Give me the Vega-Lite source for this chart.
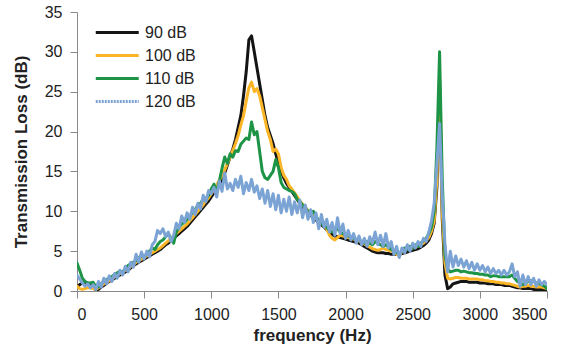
{
  "$schema": "https://vega.github.io/schema/vega-lite/v6.json",
  "width": 470,
  "height": 279,
  "autosize": {"type": "none"},
  "padding": {"left": 77, "top": 12, "right": 23, "bottom": 59},
  "background": "white",
  "config": {
    "view": {"stroke": null},
    "font": "Liberation Sans",
    "axis": {
      "grid": false,
      "domainColor": "#8a8a8a",
      "tickColor": "#8a8a8a",
      "tickSize": 7,
      "labelFontSize": 16,
      "labelColor": "#222222",
      "titleFontSize": 17,
      "titleFontWeight": "bold",
      "titleColor": "#222222",
      "labelPadding": 8
    }
  },
  "data": {
    "values": [
      {"f":0,"90 dB":0.5,"100 dB":0.6,"110 dB":3.5,"120 dB":2.0},
      {"f":20,"90 dB":0.8,"100 dB":0.3,"110 dB":2.6,"120 dB":1.5},
      {"f":40,"90 dB":1.0,"100 dB":0.2,"110 dB":1.6,"120 dB":1.0},
      {"f":60,"90 dB":1.1,"100 dB":0.3,"110 dB":1.2,"120 dB":0.6},
      {"f":80,"90 dB":1.0,"100 dB":0.4,"110 dB":1.0,"120 dB":0.9},
      {"f":100,"90 dB":0.8,"100 dB":0.4,"110 dB":1.0,"120 dB":0.4},
      {"f":120,"90 dB":0.5,"100 dB":0.3,"110 dB":1.1,"120 dB":0.8},
      {"f":140,"90 dB":0.1,"100 dB":0.2,"110 dB":0.6,"120 dB":0.2},
      {"f":160,"90 dB":0.2,"100 dB":0.4,"110 dB":0.5,"120 dB":1.2},
      {"f":180,"90 dB":0.5,"100 dB":0.6,"110 dB":0.9,"120 dB":0.5},
      {"f":200,"90 dB":0.7,"100 dB":0.9,"110 dB":1.2,"120 dB":1.6},
      {"f":220,"90 dB":1.0,"100 dB":1.1,"110 dB":1.4,"120 dB":0.9},
      {"f":240,"90 dB":1.2,"100 dB":1.3,"110 dB":1.7,"120 dB":1.9},
      {"f":260,"90 dB":1.4,"100 dB":1.5,"110 dB":1.8,"120 dB":1.2},
      {"f":280,"90 dB":1.6,"100 dB":1.8,"110 dB":2.1,"120 dB":2.2},
      {"f":300,"90 dB":1.8,"100 dB":2.0,"110 dB":2.3,"120 dB":1.6},
      {"f":320,"90 dB":2.0,"100 dB":2.2,"110 dB":2.5,"120 dB":2.6},
      {"f":340,"90 dB":2.2,"100 dB":2.4,"110 dB":2.4,"120 dB":2.0},
      {"f":360,"90 dB":2.4,"100 dB":2.6,"110 dB":2.8,"120 dB":3.1},
      {"f":380,"90 dB":2.6,"100 dB":2.8,"110 dB":3.2,"120 dB":2.4},
      {"f":400,"90 dB":2.9,"100 dB":3.1,"110 dB":3.4,"120 dB":3.6},
      {"f":420,"90 dB":3.2,"100 dB":3.3,"110 dB":3.6,"120 dB":3.0},
      {"f":440,"90 dB":3.4,"100 dB":3.6,"110 dB":3.8,"120 dB":4.6},
      {"f":460,"90 dB":3.6,"100 dB":3.8,"110 dB":4.2,"120 dB":3.6},
      {"f":480,"90 dB":3.8,"100 dB":4.0,"110 dB":4.4,"120 dB":4.9},
      {"f":500,"90 dB":4.0,"100 dB":4.2,"110 dB":4.3,"120 dB":4.0},
      {"f":520,"90 dB":4.2,"100 dB":4.4,"110 dB":4.6,"120 dB":5.0},
      {"f":540,"90 dB":4.4,"100 dB":4.6,"110 dB":5.0,"120 dB":4.3},
      {"f":560,"90 dB":4.6,"100 dB":4.8,"110 dB":5.4,"120 dB":5.8},
      {"f":580,"90 dB":4.8,"100 dB":5.0,"110 dB":5.2,"120 dB":6.2},
      {"f":600,"90 dB":5.0,"100 dB":5.2,"110 dB":5.8,"120 dB":7.6},
      {"f":620,"90 dB":5.2,"100 dB":5.4,"110 dB":6.2,"120 dB":7.2},
      {"f":640,"90 dB":5.5,"100 dB":5.7,"110 dB":6.4,"120 dB":7.8},
      {"f":660,"90 dB":5.8,"100 dB":6.0,"110 dB":6.8,"120 dB":6.8},
      {"f":680,"90 dB":6.0,"100 dB":6.3,"110 dB":7.2,"120 dB":7.4},
      {"f":700,"90 dB":6.3,"100 dB":6.6,"110 dB":6.6,"120 dB":6.2},
      {"f":720,"90 dB":6.6,"100 dB":6.9,"110 dB":6.0,"120 dB":7.0},
      {"f":740,"90 dB":6.9,"100 dB":7.2,"110 dB":7.4,"120 dB":8.5},
      {"f":760,"90 dB":7.2,"100 dB":7.5,"110 dB":8.0,"120 dB":7.8},
      {"f":780,"90 dB":7.5,"100 dB":7.8,"110 dB":8.4,"120 dB":9.4},
      {"f":800,"90 dB":7.8,"100 dB":8.1,"110 dB":8.6,"120 dB":8.6},
      {"f":820,"90 dB":8.1,"100 dB":8.4,"110 dB":9.0,"120 dB":9.8},
      {"f":840,"90 dB":8.5,"100 dB":8.8,"110 dB":9.4,"120 dB":9.0},
      {"f":860,"90 dB":8.9,"100 dB":9.2,"110 dB":9.8,"120 dB":10.5},
      {"f":880,"90 dB":9.3,"100 dB":9.6,"110 dB":10.2,"120 dB":9.6},
      {"f":900,"90 dB":9.7,"100 dB":10.0,"110 dB":10.8,"120 dB":11.0},
      {"f":920,"90 dB":10.1,"100 dB":10.4,"110 dB":11.0,"120 dB":10.3},
      {"f":940,"90 dB":10.5,"100 dB":10.8,"110 dB":11.5,"120 dB":12.0},
      {"f":960,"90 dB":10.9,"100 dB":11.3,"110 dB":11.6,"120 dB":11.2},
      {"f":980,"90 dB":11.3,"100 dB":11.7,"110 dB":12.0,"120 dB":12.6},
      {"f":1000,"90 dB":11.8,"100 dB":12.2,"110 dB":12.8,"120 dB":12.2},
      {"f":1020,"90 dB":12.3,"100 dB":12.8,"110 dB":13.4,"120 dB":13.0},
      {"f":1040,"90 dB":12.8,"100 dB":13.3,"110 dB":12.5,"120 dB":11.8},
      {"f":1060,"90 dB":13.4,"100 dB":13.9,"110 dB":13.8,"120 dB":13.8},
      {"f":1080,"90 dB":14.0,"100 dB":14.5,"110 dB":15.4,"120 dB":12.5},
      {"f":1100,"90 dB":14.8,"100 dB":15.2,"110 dB":16.8,"120 dB":14.8},
      {"f":1120,"90 dB":15.8,"100 dB":16.0,"110 dB":16.0,"120 dB":12.8},
      {"f":1140,"90 dB":16.8,"100 dB":16.8,"110 dB":17.2,"120 dB":13.5},
      {"f":1160,"90 dB":17.8,"100 dB":17.6,"110 dB":16.8,"120 dB":12.6},
      {"f":1180,"90 dB":19.0,"100 dB":18.5,"110 dB":17.6,"120 dB":14.0},
      {"f":1200,"90 dB":20.5,"100 dB":19.5,"110 dB":17.5,"120 dB":13.0},
      {"f":1220,"90 dB":22.0,"100 dB":20.8,"110 dB":18.4,"120 dB":14.4},
      {"f":1240,"90 dB":24.5,"100 dB":22.0,"110 dB":18.8,"120 dB":12.2},
      {"f":1260,"90 dB":27.5,"100 dB":23.8,"110 dB":19.2,"120 dB":13.6},
      {"f":1280,"90 dB":31.5,"100 dB":25.5,"110 dB":19.0,"120 dB":12.6},
      {"f":1300,"90 dB":32.0,"100 dB":26.2,"110 dB":21.2,"120 dB":14.0},
      {"f":1320,"90 dB":30.0,"100 dB":25.0,"110 dB":19.6,"120 dB":12.4},
      {"f":1340,"90 dB":28.0,"100 dB":25.4,"110 dB":20.0,"120 dB":13.2},
      {"f":1360,"90 dB":26.0,"100 dB":24.5,"110 dB":17.5,"120 dB":11.6},
      {"f":1380,"90 dB":24.0,"100 dB":23.0,"110 dB":15.0,"120 dB":12.8},
      {"f":1400,"90 dB":22.0,"100 dB":21.5,"110 dB":14.2,"120 dB":11.0},
      {"f":1420,"90 dB":20.5,"100 dB":20.0,"110 dB":14.0,"120 dB":12.6},
      {"f":1440,"90 dB":19.5,"100 dB":19.0,"110 dB":14.5,"120 dB":10.6},
      {"f":1460,"90 dB":18.5,"100 dB":17.5,"110 dB":15.0,"120 dB":12.2},
      {"f":1480,"90 dB":17.2,"100 dB":17.8,"110 dB":16.5,"120 dB":10.2},
      {"f":1500,"90 dB":16.0,"100 dB":17.2,"110 dB":15.5,"120 dB":12.0},
      {"f":1520,"90 dB":15.0,"100 dB":15.5,"110 dB":13.6,"120 dB":9.8},
      {"f":1540,"90 dB":14.2,"100 dB":14.5,"110 dB":13.0,"120 dB":11.5},
      {"f":1560,"90 dB":13.5,"100 dB":14.0,"110 dB":12.8,"120 dB":10.0},
      {"f":1580,"90 dB":13.0,"100 dB":13.2,"110 dB":12.6,"120 dB":11.8},
      {"f":1600,"90 dB":12.5,"100 dB":12.8,"110 dB":12.5,"120 dB":9.6},
      {"f":1620,"90 dB":12.0,"100 dB":12.3,"110 dB":12.2,"120 dB":11.2},
      {"f":1640,"90 dB":11.5,"100 dB":11.8,"110 dB":11.5,"120 dB":9.8},
      {"f":1660,"90 dB":11.0,"100 dB":11.3,"110 dB":11.2,"120 dB":11.4},
      {"f":1680,"90 dB":10.6,"100 dB":10.9,"110 dB":10.8,"120 dB":9.2},
      {"f":1700,"90 dB":10.2,"100 dB":10.5,"110 dB":10.4,"120 dB":10.8},
      {"f":1720,"90 dB":9.8,"100 dB":10.1,"110 dB":10.0,"120 dB":9.0},
      {"f":1740,"90 dB":9.5,"100 dB":9.8,"110 dB":9.8,"120 dB":10.2},
      {"f":1760,"90 dB":9.2,"100 dB":9.5,"110 dB":10.0,"120 dB":8.6},
      {"f":1780,"90 dB":8.9,"100 dB":9.1,"110 dB":9.4,"120 dB":9.8},
      {"f":1800,"90 dB":8.6,"100 dB":8.8,"110 dB":8.8,"120 dB":7.8},
      {"f":1820,"90 dB":8.3,"100 dB":8.5,"110 dB":8.5,"120 dB":9.6},
      {"f":1840,"90 dB":8.0,"100 dB":8.2,"110 dB":8.2,"120 dB":8.0},
      {"f":1860,"90 dB":7.7,"100 dB":7.8,"110 dB":8.0,"120 dB":9.0},
      {"f":1880,"90 dB":7.4,"100 dB":7.0,"110 dB":7.6,"120 dB":7.4},
      {"f":1900,"90 dB":7.1,"100 dB":6.6,"110 dB":7.4,"120 dB":8.6},
      {"f":1920,"90 dB":6.9,"100 dB":6.4,"110 dB":7.6,"120 dB":7.0},
      {"f":1940,"90 dB":6.8,"100 dB":6.7,"110 dB":7.8,"120 dB":9.2},
      {"f":1960,"90 dB":6.7,"100 dB":7.0,"110 dB":7.4,"120 dB":7.2},
      {"f":1980,"90 dB":6.6,"100 dB":6.9,"110 dB":7.2,"120 dB":8.4},
      {"f":2000,"90 dB":6.5,"100 dB":6.8,"110 dB":7.0,"120 dB":6.6},
      {"f":2020,"90 dB":6.4,"100 dB":6.7,"110 dB":6.9,"120 dB":7.6},
      {"f":2040,"90 dB":6.3,"100 dB":6.6,"110 dB":6.7,"120 dB":6.4},
      {"f":2060,"90 dB":6.2,"100 dB":6.5,"110 dB":6.6,"120 dB":7.2},
      {"f":2080,"90 dB":6.1,"100 dB":6.4,"110 dB":6.5,"120 dB":6.0},
      {"f":2100,"90 dB":6.0,"100 dB":6.3,"110 dB":6.4,"120 dB":6.9},
      {"f":2120,"90 dB":5.8,"100 dB":6.1,"110 dB":6.2,"120 dB":5.8},
      {"f":2140,"90 dB":5.6,"100 dB":5.9,"110 dB":6.0,"120 dB":6.6},
      {"f":2160,"90 dB":5.4,"100 dB":5.7,"110 dB":6.2,"120 dB":5.6},
      {"f":2180,"90 dB":5.2,"100 dB":5.5,"110 dB":6.0,"120 dB":6.8},
      {"f":2200,"90 dB":5.0,"100 dB":5.3,"110 dB":5.8,"120 dB":6.0},
      {"f":2220,"90 dB":4.9,"100 dB":5.2,"110 dB":6.2,"120 dB":7.4},
      {"f":2240,"90 dB":4.8,"100 dB":5.1,"110 dB":6.0,"120 dB":5.8},
      {"f":2260,"90 dB":4.8,"100 dB":5.2,"110 dB":5.8,"120 dB":7.0},
      {"f":2280,"90 dB":4.8,"100 dB":5.4,"110 dB":5.6,"120 dB":5.6},
      {"f":2300,"90 dB":4.7,"100 dB":5.2,"110 dB":5.8,"120 dB":7.2},
      {"f":2320,"90 dB":4.7,"100 dB":5.1,"110 dB":5.5,"120 dB":5.4},
      {"f":2340,"90 dB":4.6,"100 dB":5.0,"110 dB":5.2,"120 dB":6.2},
      {"f":2360,"90 dB":4.6,"100 dB":5.0,"110 dB":5.0,"120 dB":4.6},
      {"f":2380,"90 dB":4.6,"100 dB":4.6,"110 dB":4.8,"120 dB":5.6},
      {"f":2400,"90 dB":4.6,"100 dB":4.4,"110 dB":4.6,"120 dB":4.2},
      {"f":2420,"90 dB":4.7,"100 dB":5.0,"110 dB":5.0,"120 dB":5.4},
      {"f":2440,"90 dB":4.8,"100 dB":5.1,"110 dB":5.4,"120 dB":4.8},
      {"f":2460,"90 dB":4.9,"100 dB":5.2,"110 dB":5.2,"120 dB":5.8},
      {"f":2480,"90 dB":5.0,"100 dB":5.3,"110 dB":5.6,"120 dB":5.0},
      {"f":2500,"90 dB":5.1,"100 dB":5.4,"110 dB":5.4,"120 dB":6.0},
      {"f":2520,"90 dB":5.2,"100 dB":5.5,"110 dB":5.8,"120 dB":5.4},
      {"f":2540,"90 dB":5.3,"100 dB":5.6,"110 dB":5.6,"120 dB":6.2},
      {"f":2560,"90 dB":5.5,"100 dB":5.8,"110 dB":6.0,"120 dB":5.6},
      {"f":2580,"90 dB":5.7,"100 dB":6.0,"110 dB":6.3,"120 dB":6.6},
      {"f":2600,"90 dB":6.0,"100 dB":6.3,"110 dB":6.6,"120 dB":6.2},
      {"f":2620,"90 dB":6.4,"100 dB":6.7,"110 dB":7.2,"120 dB":7.4},
      {"f":2640,"90 dB":7.2,"100 dB":7.5,"110 dB":8.0,"120 dB":8.8},
      {"f":2660,"90 dB":8.5,"100 dB":8.8,"110 dB":10.0,"120 dB":11.0},
      {"f":2680,"90 dB":13.0,"100 dB":14.0,"110 dB":18.0,"120 dB":16.0},
      {"f":2700,"90 dB":26.0,"100 dB":27.0,"110 dB":30.0,"120 dB":21.0},
      {"f":2720,"90 dB":9.0,"100 dB":10.0,"110 dB":14.0,"120 dB":12.0},
      {"f":2740,"90 dB":2.0,"100 dB":3.5,"110 dB":4.5,"120 dB":6.0},
      {"f":2760,"90 dB":0.3,"100 dB":1.6,"110 dB":2.8,"120 dB":2.4},
      {"f":2780,"90 dB":0.5,"100 dB":1.5,"110 dB":2.4,"120 dB":5.0},
      {"f":2800,"90 dB":0.9,"100 dB":1.6,"110 dB":2.5,"120 dB":3.0},
      {"f":2820,"90 dB":1.0,"100 dB":1.7,"110 dB":2.6,"120 dB":4.4},
      {"f":2840,"90 dB":1.1,"100 dB":1.7,"110 dB":2.6,"120 dB":3.2},
      {"f":2860,"90 dB":1.2,"100 dB":1.6,"110 dB":2.4,"120 dB":4.0},
      {"f":2880,"90 dB":1.2,"100 dB":1.6,"110 dB":2.5,"120 dB":3.0},
      {"f":2900,"90 dB":1.2,"100 dB":1.6,"110 dB":2.4,"120 dB":3.8},
      {"f":2920,"90 dB":1.1,"100 dB":1.5,"110 dB":2.3,"120 dB":2.8},
      {"f":2940,"90 dB":1.1,"100 dB":1.5,"110 dB":2.3,"120 dB":3.6},
      {"f":2960,"90 dB":1.1,"100 dB":1.5,"110 dB":2.2,"120 dB":2.6},
      {"f":2980,"90 dB":1.1,"100 dB":1.5,"110 dB":2.2,"120 dB":3.4},
      {"f":3000,"90 dB":1.0,"100 dB":1.4,"110 dB":2.1,"120 dB":2.6},
      {"f":3020,"90 dB":1.0,"100 dB":1.4,"110 dB":2.1,"120 dB":3.2},
      {"f":3040,"90 dB":1.0,"100 dB":1.3,"110 dB":2.0,"120 dB":2.4},
      {"f":3060,"90 dB":0.9,"100 dB":1.3,"110 dB":2.0,"120 dB":3.0},
      {"f":3080,"90 dB":0.9,"100 dB":1.2,"110 dB":1.8,"120 dB":2.2},
      {"f":3100,"90 dB":0.9,"100 dB":1.2,"110 dB":1.9,"120 dB":2.8},
      {"f":3120,"90 dB":0.8,"100 dB":1.1,"110 dB":1.9,"120 dB":2.2},
      {"f":3140,"90 dB":0.8,"100 dB":1.1,"110 dB":1.8,"120 dB":2.6},
      {"f":3160,"90 dB":0.8,"100 dB":1.0,"110 dB":1.8,"120 dB":2.0},
      {"f":3180,"90 dB":0.7,"100 dB":1.0,"110 dB":1.8,"120 dB":2.6},
      {"f":3200,"90 dB":0.7,"100 dB":0.9,"110 dB":1.8,"120 dB":2.0},
      {"f":3220,"90 dB":0.7,"100 dB":0.9,"110 dB":1.8,"120 dB":2.4},
      {"f":3240,"90 dB":0.6,"100 dB":0.8,"110 dB":2.0,"120 dB":3.4},
      {"f":3260,"90 dB":0.5,"100 dB":0.7,"110 dB":1.6,"120 dB":1.8},
      {"f":3280,"90 dB":0.4,"100 dB":0.6,"110 dB":1.2,"120 dB":2.4},
      {"f":3300,"90 dB":0.4,"100 dB":0.5,"110 dB":1.0,"120 dB":0.6},
      {"f":3320,"90 dB":0.3,"100 dB":0.6,"110 dB":0.8,"120 dB":2.0},
      {"f":3340,"90 dB":0.3,"100 dB":0.6,"110 dB":1.0,"120 dB":0.8},
      {"f":3360,"90 dB":0.3,"100 dB":0.7,"110 dB":1.2,"120 dB":1.8},
      {"f":3380,"90 dB":0.3,"100 dB":0.6,"110 dB":1.3,"120 dB":0.8},
      {"f":3400,"90 dB":0.2,"100 dB":0.6,"110 dB":1.2,"120 dB":1.6},
      {"f":3420,"90 dB":0.2,"100 dB":0.5,"110 dB":1.0,"120 dB":0.6},
      {"f":3440,"90 dB":0.2,"100 dB":0.5,"110 dB":0.9,"120 dB":1.4},
      {"f":3460,"90 dB":0.2,"100 dB":0.5,"110 dB":0.8,"120 dB":0.8},
      {"f":3480,"90 dB":0.2,"100 dB":0.4,"110 dB":0.6,"120 dB":1.2},
      {"f":3500,"90 dB":0.2,"100 dB":0.3,"110 dB":0.3,"120 dB":0.8}
    ]
  },
  "transform": [
    {"fold": ["90 dB", "100 dB", "110 dB", "120 dB"], "as": ["series", "tl"]}
  ],
  "mark": {"type": "line", "strokeJoin": "round", "strokeCap": "round", "clip": true},
  "encoding": {
    "x": {
      "field": "f",
      "type": "quantitative",
      "scale": {"domain": [0, 3500], "nice": false},
      "axis": {
        "values": [0, 500, 1000, 1500, 2000, 2500, 3000, 3500],
        "format": "d",
        "title": "frequency (Hz)",
        "titlePadding": 5
      }
    },
    "y": {
      "field": "tl",
      "type": "quantitative",
      "scale": {"domain": [0, 35], "nice": false},
      "axis": {
        "values": [0, 5, 10, 15, 20, 25, 30, 35],
        "format": "d",
        "title": "Transmission Loss (dB)",
        "titlePadding": 14
      }
    },
    "color": {
      "field": "series",
      "type": "nominal",
      "sort": ["90 dB", "100 dB", "110 dB", "120 dB"],
      "scale": {
        "domain": ["90 dB", "100 dB", "110 dB", "120 dB"],
        "range": ["#141414", "#FBB526", "#1E9447", "#7BA4D4"]
      },
      "legend": {
        "title": null,
        "orient": "none",
        "legendX": 17,
        "legendY": 8,
        "symbolType": "M-1,0H3",
        "symbolSize": 462,
        "symbolStrokeWidth": 3,
        "labelFontSize": 16,
        "labelColor": "#222222",
        "labelOffset": 26,
        "rowPadding": 2,
        "encode": {
          "symbols": {
            "update": {
              "strokeDash": {"signal": "datum.value === '120 dB' ? [2, 1] : [1, 0]"}
            }
          }
        }
      }
    },
    "strokeWidth": {
      "field": "series",
      "type": "ordinal",
      "scale": {
        "domain": ["90 dB", "100 dB", "110 dB", "120 dB"],
        "range": [3, 3, 3, 2.2]
      },
      "legend": null
    }
  }
}
